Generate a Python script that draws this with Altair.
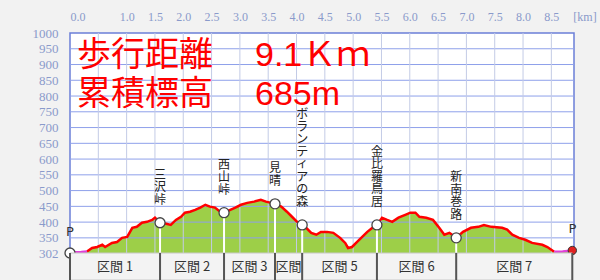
import altair as alt
import pandas as pd

# ---------------- data ----------------
dist_km = [0.00, 0.10, 0.20, 0.30, 0.39, 0.48, 0.57, 0.62, 0.74, 0.83, 0.92, 1.01,
           1.10, 1.18, 1.27, 1.36, 1.45, 1.50, 1.59, 1.70, 1.78, 1.87, 1.96, 2.03,
           2.12, 2.21, 2.30, 2.39, 2.47, 2.56, 2.65, 2.72, 2.83, 2.92, 3.02, 3.13,
           3.25, 3.37, 3.46, 3.55, 3.62, 3.73, 3.83, 3.92, 4.01, 4.10, 4.17, 4.26,
           4.35, 4.43, 4.54, 4.65, 4.77, 4.86, 4.91, 4.98, 5.07, 5.16, 5.25, 5.34,
           5.42, 5.51, 5.60, 5.69, 5.80, 5.92, 6.01, 6.10, 6.17, 6.29, 6.41, 6.52,
           6.61, 6.70, 6.82, 6.94, 7.08, 7.21, 7.31, 7.44, 7.63, 7.72, 7.81, 7.93,
           8.04, 8.16, 8.34, 8.43, 8.55, 8.70, 8.87]
elev_m = [302, 304, 305, 307, 318, 321, 328, 321, 334, 337, 350, 353,
          382, 385, 398, 401, 407, 414, 398, 395, 391, 407, 417, 430,
          433, 439, 446, 455, 449, 446, 433, 430, 439, 446, 455, 461,
          465, 471, 465, 461, 458, 449, 433, 417, 401, 391, 382, 366,
          360, 369, 369, 366, 350, 334, 318, 321, 337, 353, 369, 382,
          391, 414, 407, 401, 414, 423, 430, 430, 417, 414, 407, 382,
          360, 366, 350, 369, 382, 385, 391, 385, 382, 376, 360, 350,
          344, 334, 328, 321, 306, 307, 310]
road_end_start_km = 0.30   # pink (road) part at the start ends here
road_start_end_km = 8.55   # pink (road) part at the end starts here

way_names = ["三沢峠", "西山峠", "見晴", "ボランティアの森", "金比羅鳥居", "新南巻路"]
way_km = [1.59, 2.72, 3.62, 4.10, 5.42, 6.82]
way_elev = [398, 430, 458, 391, 391, 350]

start_km, start_elev = 0.0, 302
goal_km, goal_elev = 8.87, 310

section_names = ["区間 1", "区間 2", "区間 3", "区間 4", "区間 5", "区間 6", "区間 7"]

x_label_values = [0.0, 1.0, 1.5, 2.0, 2.5, 3.0, 3.5, 4.0, 4.5, 5.0, 5.5, 6.0, 6.5, 7.0, 7.5, 8.0, 8.5]
x_grid_values = [0.5, 1.0, 1.5, 2.0, 2.5, 3.0, 3.5, 4.0, 4.5, 5.0, 5.5, 6.0, 6.5, 7.0, 7.5, 8.0, 8.5]
y_tick_values = [302, 350, 400, 450, 500, 550, 600, 650, 700, 750, 800, 850, 900, 950, 1000]
y_grid_values = [350, 400, 450, 500, 550, 600, 650, 700, 750, 800, 850, 900, 950]

title_labels = ["歩行距離", "累積標高"]
title_values = ["9.1Ｋｍ", "685m"]

# ---------------- tables ----------------
prof = pd.DataFrame({"km": dist_km, "elev": elev_m})
trail = prof[(prof.km >= road_end_start_km) & (prof.km <= road_start_end_km)]
road = prof[(prof.km <= road_end_start_km) | (prof.km >= road_start_end_km)].copy()
road["part"] = (road.km > 4).astype(int)

ways = pd.DataFrame({"name": way_names, "km": way_km, "elev": way_elev})
pts = pd.DataFrame({"km": [start_km] + way_km, "elev": [start_elev] + way_elev})
ends = pd.DataFrame({"km": [start_km, goal_km], "elev": [start_elev, goal_elev]})
bounds = [start_km] + way_km + [goal_km]
sections = pd.DataFrame({"name": section_names, "s": bounds[:-1], "e": bounds[1:]})
sections["mid"] = (sections.s + sections.e) / 2
bnd = pd.DataFrame({"b": bounds})

W, H = 504, 220
XS = alt.Scale(domain=[0, 8.9], nice=False, zero=False)
YS = alt.Scale(domain=[302, 1000], nice=False, zero=False)
LBL = "#8a9acb"

x_axis = alt.Axis(orient="top", values=x_label_values, format=".1f", title=None,
                  grid=False, ticks=False, domain=False, labelPadding=10,
                  labelFont="Liberation Serif", labelFontSize=12, labelColor=LBL,
                  labelOverlap=False, labelFlush=True)
y_axis = alt.Axis(orient="left", values=y_tick_values, format="d", title=None, grid=False,
                  ticks=False, domain=False, labelPadding=12,
                  labelFont="Liberation Serif", labelFontSize=13, labelColor=LBL,
                  labelOverlap=False)

X = lambda f: alt.X(f, scale=XS, axis=x_axis)
Y = lambda f: alt.Y(f, scale=YS, axis=y_axis)

area = alt.Chart(prof).mark_area(color="#9dcf48", opacity=1).encode(
    x=X("km:Q"), y=Y("elev:Q"))

hgrid = alt.Chart(pd.DataFrame({"v": y_grid_values})).mark_rule(
    color="#8ea0ea", strokeWidth=1).encode(y=Y("v:Q"))
vgrid = alt.Chart(pd.DataFrame({"v": x_grid_values})).mark_rule(
    color="#c3cbe6", strokeWidth=1).encode(x=X("v:Q"))

drops = alt.Chart(ways).mark_rule(color="white", strokeWidth=2).encode(
    x=X("km:Q"), y=Y("elev:Q"), y2=alt.datum(302))

trail_line = alt.Chart(trail).mark_line(color="#ff0000", strokeWidth=2.5).encode(
    x=X("km:Q"), y=Y("elev:Q"))
road_line = alt.Chart(road).mark_line(color="#e040d8", strokeWidth=2.5).encode(
    x=X("km:Q"), y=Y("elev:Q"), detail="part:N")

circles = alt.Chart(pts).mark_point(shape="circle", filled=True, fill="white",
                                    stroke="#444", strokeWidth=1.3, size=100,
                                    opacity=1).encode(x=X("km:Q"), y=Y("elev:Q"))

goal_icon = alt.Chart(ends.iloc[[1]]).mark_point(shape="circle", filled=True,
                                                 fill="#e02020", stroke="#333",
                                                 strokeWidth=1, size=70, opacity=1).encode(
    x=X("km:Q"), y=Y("elev:Q"))

p_text = alt.Chart(ends).mark_text(text="P", dy=-21, fontSize=13, font="DejaVu Sans",
                                   color="#333").encode(x=X("km:Q"), y=Y("elev:Q"))

# vertical (one character per line) labels, stacked upward from above each waypoint
LH = 12.5
way_text = alt.Chart(ways).transform_calculate(
    txt="join(split(datum.name, ''), '\\n')"
).mark_text(baseline="bottom", lineBreak="\n", lineHeight=LH, fontSize=12,
            font="Noto Sans CJK JP", color="#222").encode(
    x=X("km:Q"),
    y={"value": {"expr": f"scale('y', datum.elev) - 16 - (length(datum.name) - 1) * {LH}"}},
    text="txt:N")

band = alt.Chart(sections).mark_rect(fill="#f3f3f3", stroke="#c8c8c8", strokeWidth=1).encode(
    x=X("s:Q"), x2="e:Q", y=alt.value(H), y2=alt.value(H + 27))
seps = alt.Chart(bnd).mark_rule(color="#555", strokeWidth=2).encode(
    x=X("b:Q"), y=alt.value(H), y2=alt.value(H + 27))
sec_text = alt.Chart(sections).transform_filter("datum.e - datum.s >= 0.6").mark_text(
    fontSize=13, font="Noto Sans CJK JP", color="#333").encode(
    x=X("mid:Q"), y=alt.value(H + 14), text="name:N")
sec_text_narrow = alt.Chart(sections).transform_filter("datum.e - datum.s < 0.6").mark_text(
    fontSize=13, font="Noto Sans CJK JP", color="#333", limit=27, ellipsis="\u200b").encode(
    x=X("mid:Q"), y=alt.value(H + 14), text="name:N")

km_unit = alt.Chart(pd.DataFrame({"t": ["[km]"]})).mark_text(
    font="Liberation Serif", fontSize=12, color=LBL).encode(
    x=alt.value(515), y=alt.value(-16), text="t:N")

titles = []
for i in range(2):
    d = pd.DataFrame({"a": [title_labels[i]], "b": [title_values[i]]})
    yy = 23 + i * 39
    titles.append(alt.Chart(d).mark_text(align="left", baseline="middle", fontSize=34,
                                         font="Noto Sans CJK JP", color="#ff0000").encode(
        x=alt.value(7), y=alt.value(yy), text="a:N"))
    titles.append(alt.Chart(d).mark_text(align="left", baseline="middle", fontSize=34,
                                         font="Liberation Sans, Noto Sans CJK JP",
                                         color="#ff0000").encode(
        x=alt.value(185), y=alt.value(yy), text="b:N"))

chart = alt.layer(
    area, hgrid, vgrid, drops, trail_line, road_line, circles, goal_icon, p_text,
    way_text, band, seps, sec_text, sec_text_narrow, km_unit, *titles
).properties(
    width=W, height=H,
    autosize=alt.AutoSizeParams(type="none"),
    padding={"left": 70, "top": 33, "right": 26, "bottom": 27},
).configure(background="#f2f2f2").configure_view(fill="white", stroke="#6b7fd7", strokeWidth=1.5)

chart.save("out.html", embed_options={"renderer": "svg", "actions": False})
